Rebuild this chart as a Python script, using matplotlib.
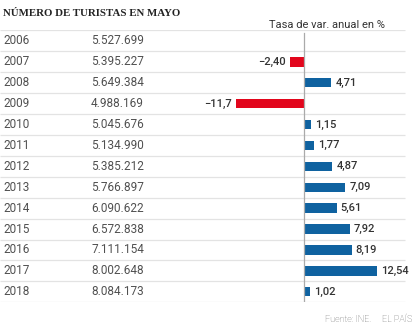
import matplotlib
matplotlib.use("Agg")
import matplotlib.pyplot as plt
import matplotlib.transforms as mtransforms

# datos
years = ["2006", "2007", "2008", "2009", "2010", "2011", "2012",
         "2013", "2014", "2015", "2016", "2017", "2018"]
turistas = ["5.527.699", "5.395.227", "5.649.384", "4.988.169", "5.045.676",
            "5.134.990", "5.385.212", "5.766.897", "6.090.622", "6.572.838",
            "7.111.154", "8.002.648", "8.084.173"]
tasa = [None, -2.40, 4.71, -11.7, 1.15, 1.77, 4.87, 7.09, 5.61, 7.92, 8.19, 12.54, 1.02]
tasa_labels = ["", "\u22122,40", "4,71", "\u221211,7", "1,15", "1,77", "4,87",
               "7,09", "5,61", "7,92", "8,19", "12,54", "1,02"]

W, H = 414, 336
fig = plt.figure(figsize=(W / 100, H / 100), dpi=100)

top_px, bot_px = 30.5, 302.2
ax = fig.add_axes([0, 1 - bot_px / H, 1, (bot_px - top_px) / H])
px_per_unit = 5.8
zero_px = 304
ax.set_xlim(-zero_px / px_per_unit, (W - zero_px) / px_per_unit)
ax.set_ylim(len(years) - 0.5, -0.5)
ax.axis("off")

blend = mtransforms.blended_transform_factory(ax.transAxes, ax.transData)

# lineas de separacion
for i in range(len(years) + 1):
    ax.plot([0, 405 / W], [i - 0.5, i - 0.5], transform=blend,
            color="#e3e3e3", lw=0.9, solid_capstyle="butt")
ax.plot([0, 0], [-0.4, len(years) - 0.55], color="#aaaaaa", lw=0.9)

rojo = "#e2061c"
azul = "#0f62a0"
for i, (y, t, v, lab) in enumerate(zip(years, turistas, tasa, tasa_labels)):
    ax.text(3 / W, i, y, transform=blend, ha="left", va="center",
            fontsize=8.5, color="#505050", family="Roboto")
    ax.text(144 / W, i, t, transform=blend, ha="right", va="center",
            fontsize=8.5, color="#505050", family="Roboto")
    if v is None:
        continue
    c = rojo if v < 0 else azul
    ax.barh(i, v, height=0.45, color=c, left=0)
    off = 0.7
    if v < 0:
        ax.text(v - off, i, lab, ha="right", va="center", fontsize=8,
                color="#333333", family="Roboto", fontweight="medium")
    else:
        ax.text(v + off, i, lab, ha="left", va="center", fontsize=8,
                color="#333333", family="Roboto", fontweight="medium")

fig.text(3 / W, 1 - 13 / H, "NÚMERO DE TURISTAS EN MAYO", ha="left", va="center",
         fontsize=7.8, fontweight="bold", family="Liberation Serif", color="#222222")
fig.text(385 / W, 1 - 25 / H, "Tasa de var. anual en %", ha="right", va="center",
         fontsize=8, color="#333333", family="Roboto")
fig.text(325 / W, 1 - 320 / H, "Fuente: INE.", ha="left", va="center",
         fontsize=6.5, color="#666666", family="Roboto", fontweight="light")
fig.text(382 / W, 1 - 320 / H, "EL PAÍS", ha="left", va="center",
         fontsize=6.5, color="#666666", family="Roboto", fontweight="light")

plt.savefig("out.png", dpi=100)
